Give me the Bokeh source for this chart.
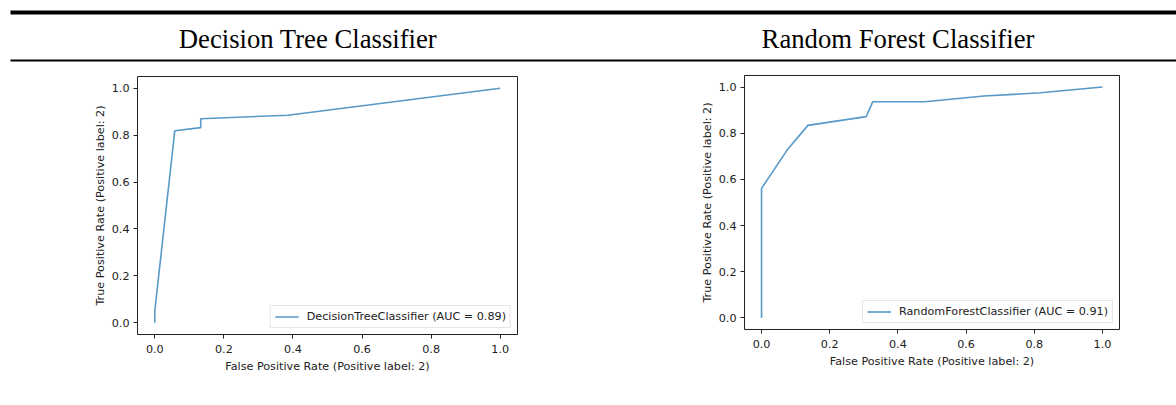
from bokeh.plotting import figure
from bokeh.layouts import column, row
from bokeh.models import Range1d, FixedTicker, PrintfTickFormatter, Legend, LegendItem
from bokeh.embed import file_html
from bokeh.resources import INLINE
from bokeh.core.properties import value

# ---- data ----
titles = ["Decision Tree Classifier", "Random Forest Classifier"]

dt_fpr = [0.0, 0.0, 0.058, 0.133, 0.133, 0.385, 1.0]
dt_tpr = [0.0, 0.05, 0.819, 0.832, 0.870, 0.885, 1.0]
dt_label = "DecisionTreeClassifier (AUC = 0.89)"

rf_fpr = [0.0, 0.0, 0.075, 0.136, 0.307, 0.326, 0.480, 0.652, 0.818, 1.0]
rf_tpr = [0.0, 0.561, 0.727, 0.834, 0.872, 0.936, 0.936, 0.961, 0.975, 1.0]
rf_label = "RandomForestClassifier (AUC = 0.91)"

ticks = [0.0, 0.2, 0.4, 0.6, 0.8, 1.0]
x_label = "False Positive Rate (Positive label: 2)"
y_label = "True Positive Rate (Positive label: 2)"

LINE = "#1f77b4"
TXT = "#222222"
FONT = "DejaVu Sans"
FS = "11.2px"

# ---- header (table rules + column titles) ----
header = figure(width=1176, height=64, x_range=Range1d(0, 1176), y_range=Range1d(64, 0),
                output_backend="svg", toolbar_location=None, min_border=0,
                x_axis_location=None, y_axis_location=None)
header.grid.visible = False
header.outline_line_color = None
header.segment(x0=[10, 10], y0=[12, 60], x1=[1176, 1176], y1=[12, 60],
               line_width=[4, 2], line_color="black")
header.text(x=[307.5, 897.5], y=[38, 38], text=titles,
            text_font=value("Liberation Serif"), text_font_size="26.7px",
            text_align="center", text_baseline="alphabetic", text_color="black")


def roc_plot(fpr, tpr, label, fw, fh, bl, br, bt, bb):
    p = figure(frame_width=fw, frame_height=fh,
               x_range=Range1d(-0.05, 1.05), y_range=Range1d(-0.05, 1.05),
               output_backend="svg", toolbar_location=None,
               min_border_left=bl, min_border_right=br, min_border_top=bt, min_border_bottom=bb)
    p.frame_align = False
    p.grid.visible = False
    p.outline_line_color = TXT
    p.outline_line_width = 1
    r = p.line(fpr, tpr, line_color=LINE, line_width=1.6, line_alpha=0.75)
    for ax in (p.xaxis[0], p.yaxis[0]):
        ax.ticker = FixedTicker(ticks=ticks)
        ax.formatter = PrintfTickFormatter(format="%.1f")
        ax.axis_line_color = None
        ax.major_tick_in = 0
        ax.major_tick_out = 4
        ax.major_tick_line_color = TXT
        ax.minor_tick_line_color = None
        ax.major_label_text_font = FONT
        ax.major_label_text_font_size = FS
        ax.major_label_text_color = TXT
        ax.axis_label_text_font = FONT
        ax.axis_label_text_font_size = FS
        ax.axis_label_text_font_style = "normal"
        ax.axis_label_text_color = TXT
    p.xaxis.major_label_standoff = 6
    p.xaxis.axis_label_standoff = 4
    p.yaxis.major_label_standoff = 4
    p.yaxis.axis_label_standoff = 2
    p.xaxis.axis_label = x_label
    p.yaxis.axis_label = y_label
    leg = Legend(items=[LegendItem(label=label, renderers=[r])], location="bottom_right",
                 border_line_color="#cccccc", border_line_width=1, background_fill_alpha=0.8,
                 padding=4, spacing=0, margin=6, label_text_font=FONT, label_text_font_size=FS,
                 label_text_color=TXT, glyph_width=24, glyph_height=13, label_height=13,
                 label_standoff=8)
    p.add_layout(leg)
    return p


p1 = roc_plot(dt_fpr, dt_tpr, dt_label, 380, 258, 137, 83, 12, 71)
p2 = roc_plot(rf_fpr, rf_tpr, rf_label, 375, 254, 144, 57, 11, 76)

layout = column(header, row(p1, p2))
open("out.html", "w").write(file_html(layout, INLINE))
